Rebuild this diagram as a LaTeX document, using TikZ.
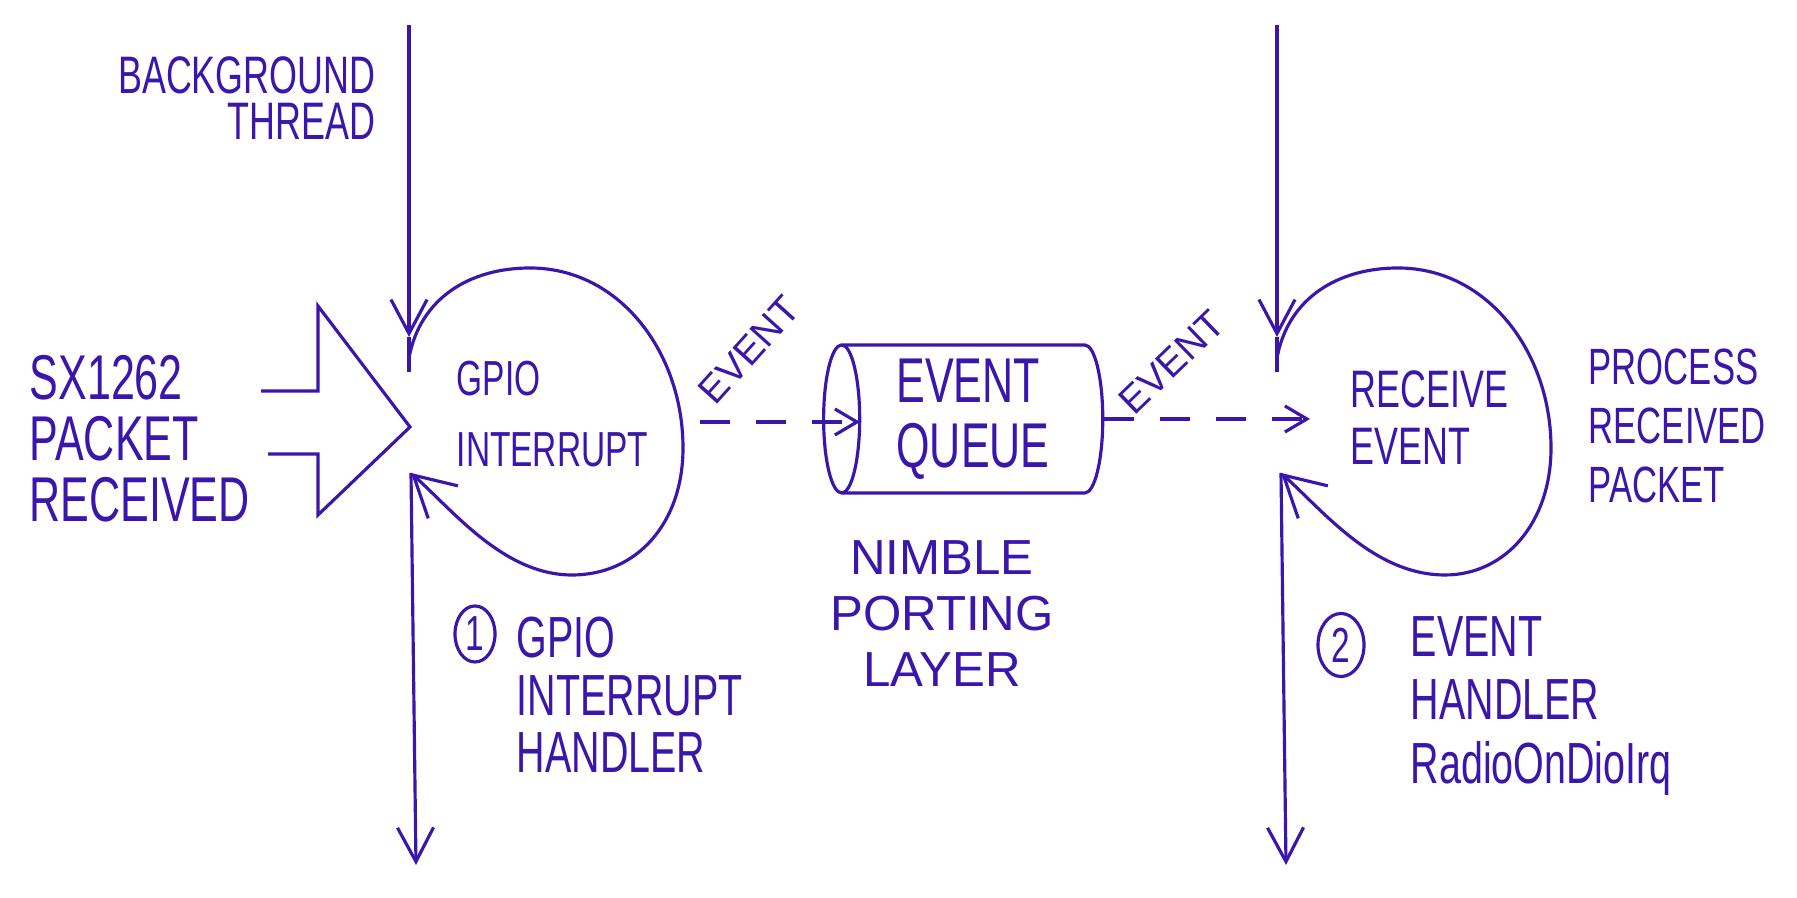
\documentclass[tikz,border=0pt]{standalone}
\usepackage{fontspec}
\usetikzlibrary{positioning, arrows.meta, shapes.geometric}
\newfontfamily\handfont{Liberation Sans}[FakeStretch=0.68]
\newfontfamily\widefont{Liberation Sans}
\definecolor{ink}{RGB}{58,22,172}

\begin{document}
\begin{tikzpicture}[x=0.01cm, y=0.01cm,
            inktext/.style={text=ink, inner sep=0pt, font=\handfont},
            threadline/.style={draw=ink, line width=0.9pt},
            threadarrow/.style={threadline, -{Straight Barb[length=3.4mm, width=3.6mm]}},
            looparrow/.style={threadline, -{Straight Barb[length=4mm, width=4.4mm]}},
            eventflow/.style={threadline, dash pattern=on 3mm off 2.6mm, -{Straight Barb[length=2.2mm, width=2.6mm]}},
            queuenode/.style={cylinder, shape border rotate=180, aspect=0.3, draw=ink, line width=0.9pt, minimum width=1.48cm, minimum height=2.79cm, inner sep=0pt},
            numbernode/.style={ellipse, draw=ink, line width=0.9pt, minimum width=0.4cm, minimum height=0.56cm, inner sep=0pt, text=ink, font=\handfont\fontsize{14}{14}\selectfont},
            ]
            \useasboundingbox (0,0) rectangle (1797,898);

            \node[inktext, anchor=east, align=right, font=\handfont\fontsize{15}{13}\selectfont] (bgthread) at (376,800) {BACKGROUND\\THREAD};
            \node[inktext, anchor=west, align=left, font=\handfont\fontsize{18}{17.3}\selectfont] (sxpkt) at (29,459) {SX1262\\PACKET\\RECEIVED};
            \node[inktext, anchor=west, align=left, font=\handfont\fontsize{14}{20.4}\selectfont] (gpio) at (456,484) {GPIO\\INTERRUPT};
            \node[queuenode, text=ink, align=left, font=\handfont\fontsize{18}{18.4}\selectfont] (queue) at (973,479) {EVENT\\QUEUE};
            \node[inktext, rotate=48, font=\widefont\fontsize{11}{11}\selectfont] (evlabA) at (749,548) {EVENT};
            \node[inktext, rotate=44, font=\widefont\fontsize{11}{11}\selectfont] (evlabB) at (1172,536) {EVENT};
            \node[inktext, align=center, font=\widefont\fontsize{14}{16}\selectfont, below=0.45cm of queue, xshift=-0.31cm] (nimble) {NIMBLE\\PORTING\\LAYER};
            \node[inktext, anchor=west, align=left, font=\handfont\fontsize{15}{16.2}\selectfont] (recv) at (1350,480) {RECEIVE\\EVENT};
            \node[inktext, anchor=west, align=left, font=\handfont\fontsize{14.5}{16.7}\selectfont] (proc) at (1588,472) {PROCESS\\RECEIVED\\PACKET};
            \node[numbernode] (num1) at (475,264) {1};
            \node[inktext, anchor=west, align=left, font=\handfont\fontsize{16.5}{16.4}\selectfont] (gpiohdl) at (516,203) {GPIO\\INTERRUPT\\HANDLER};
            \node[numbernode, minimum width=0.46cm, minimum height=0.63cm] (num2) at (1341,253) {2};
            \node[inktext, anchor=west, align=left, font=\handfont\fontsize{16.5}{18}\selectfont] (evhdl) at (1410,192) {EVENT\\HANDLER\\RadioOnDioIrq};

            \coordinate (tAtop) at (409,873);
            \coordinate (tAin) at (409,561);
            \coordinate (tAend) at (409,526);
            \coordinate (lAin) at (409,540);
            \coordinate (lAout) at (411,425);
            \coordinate (tAbot) at (416,33);
            \coordinate (tBtop) at (1277,873);
            \coordinate (tBin) at (1277,561);
            \coordinate (tBend) at (1277,526);
            \coordinate (lBin) at (1277,540);
            \coordinate (lBout) at (1281,425);
            \coordinate (tBbot) at (1286,33);
            \coordinate (evAfrom) at (700,476);
            \coordinate (qin) at (860,476);
            \coordinate (rin) at (1310,479);

            \draw[threadline, line join=miter] (261,507) -- (318,507) -- (318,592) -- (410,471) -- (318,383) -- (318,444) -- (268,444);

            \draw[threadarrow] (tAtop) -- (tAin);
            \draw[threadline] (tAin) -- (tAend);
            \draw[looparrow] (lAin) .. controls (420,600) and (470,630) .. (530,630) .. controls (620,630) and (683,545) .. (683,450) .. controls (683,375) and (637,323) .. (572,323) .. controls (505,323) and (455,385) .. (lAout);
            \draw[threadarrow] (lAout) -- (tAbot);

            \draw[threadarrow] (tBtop) -- (tBin);
            \draw[threadline] (tBin) -- (tBend);
            \draw[looparrow] (lBin) .. controls (1288,600) and (1338,630) .. (1398,630) .. controls (1488,630) and (1551,545) .. (1551,450) .. controls (1551,375) and (1505,323) .. (1445,323) .. controls (1375,323) and (1325,385) .. (lBout);
            \draw[threadarrow] (lBout) -- (tBbot);

            \draw[eventflow] (evAfrom) -- (qin);
            \draw[eventflow] (queue.bottom) -- (rin);
        \end{tikzpicture}
\end{document}
